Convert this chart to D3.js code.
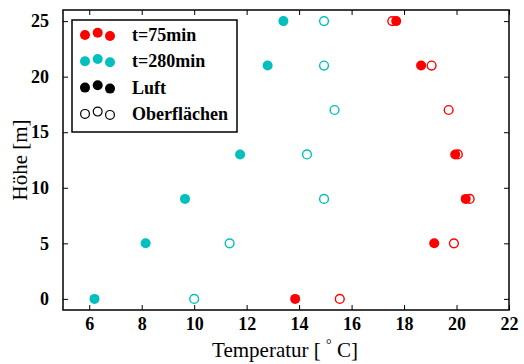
<!DOCTYPE html>
<html>
<head>
<meta charset="utf-8">
<script src="https://cdn.jsdelivr.net/npm/d3@7"></script>
<style>
  body { margin: 0; background: #fff; }
  svg text { font-family: "Liberation Serif", "DejaVu Serif", serif; }
</style>
</head>
<body>
<div id="chart"></div>
<script>
// heights [m]
const hoeheLuft = [0, 5, 9, 13, 21, 25];
const hoeheOberflaechen = [0, 5, 9, 13, 17, 21, 25];

// temperatures [°C]
const luft75 = [13.85, 19.15, 20.35, 19.95, 18.65, 17.7];
const oberflaechen75 = [15.55, 19.9, 20.5, 20.05, 19.7, 19.05, 17.55];
const luft280 = [6.2, 8.15, 9.65, 11.75, 12.8, 13.4];
const oberflaechen280 = [10.0, 11.35, 14.95, 14.3, 15.35, 14.95, 14.95];

const xTicks = [6, 8, 10, 12, 14, 16, 18, 20, 22];
const yTicks = [0, 5, 10, 15, 20, 25];

const legendLabels = ["t=75min", "t=280min", "Luft", "Oberflächen"];

const red = "#ff0000", cyan = "#00bfbf";

const W = 524, H = 364;
const margin = { top: 10, right: 15, bottom: 54, left: 63 };
const width = W - margin.left - margin.right,
      height = H - margin.top - margin.bottom;

const svg = d3.select("#chart").append("svg")
    .attr("width", W)
    .attr("height", H);

const g = svg.append("g")
    .attr("transform", "translate(" + margin.left + "," + margin.top + ")");

const x = d3.scaleLinear().domain([5, 22]).range([0, width]),
      y = d3.scaleLinear().domain([-1, 26]).range([height, 0]);

// axes with inward ticks on all four sides
function styleAxis(sel) {
    sel.select(".domain").remove();
    sel.selectAll(".tick line").attr("stroke", "#000").attr("stroke-width", 1);
}

g.append("g")
    .attr("transform", "translate(0," + height + ")")
    .call(d3.axisBottom(x).tickValues(xTicks).tickSizeInner(-5).tickSizeOuter(0).tickPadding(7))
    .call(styleAxis)
    .selectAll("text")
        .attr("font-size", 18)
        .attr("font-weight", "bold")
        .attr("fill", "#000");

g.append("g")
    .call(d3.axisTop(x).tickValues(xTicks).tickSizeInner(-5).tickSizeOuter(0).tickFormat(""))
    .call(styleAxis);

g.append("g")
    .call(d3.axisLeft(y).tickValues(yTicks).tickSizeInner(-5).tickSizeOuter(0).tickPadding(14))
    .call(styleAxis)
    .selectAll("text")
        .attr("font-size", 18)
        .attr("font-weight", "bold")
        .attr("fill", "#000");

g.append("g")
    .attr("transform", "translate(" + width + ",0)")
    .call(d3.axisRight(y).tickValues(yTicks).tickSizeInner(-5).tickSizeOuter(0).tickFormat(""))
    .call(styleAxis);

g.append("rect")
    .attr("width", width)
    .attr("height", height)
    .attr("fill", "none")
    .attr("stroke", "#000")
    .attr("stroke-width", 1.5);

// data
const r = 5;
function dots(xs, hs, color, filled) {
    g.append("g").selectAll("circle")
        .data(xs.map((v, i) => ({ t: v, h: hs[i] })))
        .enter().append("circle")
        .attr("cx", d => x(d.t))
        .attr("cy", d => y(d.h))
        .attr("r", filled ? r : r - 0.6)
        .attr("fill", filled ? color : "none")
        .attr("stroke", color)
        .attr("stroke-width", filled ? 0 : 1.4);
}
dots(oberflaechen280, hoeheOberflaechen, cyan, false);
dots(luft280, hoeheLuft, cyan, true);
dots(oberflaechen75, hoeheOberflaechen, red, false);
dots(luft75, hoeheLuft, red, true);

// legend
const legend = g.append("g").attr("transform", "translate(9,10)");
legend.append("rect")
    .attr("width", 165)
    .attr("height", 112)
    .attr("fill", "#fff")
    .attr("stroke", "#000")
    .attr("stroke-width", 1.5);

const legendColors = [red, cyan, "#000", "#000"];
const legendFilled = [true, true, true, false];
const markerDx = [13, 25.7, 38], markerDy = [0, -2.3, 1];
legendLabels.forEach((label, i) => {
    const row = legend.append("g").attr("transform", "translate(0," + (15 + i * 26.3) + ")");
    markerDx.forEach((dx, j) => {
        row.append("circle")
            .attr("cx", dx)
            .attr("cy", markerDy[j])
            .attr("r", legendFilled[i] ? r : r - 0.6)
            .attr("fill", legendFilled[i] ? legendColors[i] : "none")
            .attr("stroke", legendColors[i])
            .attr("stroke-width", legendFilled[i] ? 0 : 1.2);
    });
    row.append("text")
        .attr("x", 60)
        .attr("y", 6)
        .attr("font-size", 18)
        .attr("font-weight", "bold")
        .text(label);
});

// axis labels
const xl = svg.append("text")
    .attr("x", margin.left + width / 2 - 1)
    .attr("y", 357)
    .attr("text-anchor", "middle")
    .attr("font-size", 21);
xl.append("tspan").text("Temperatur [ ");
xl.append("tspan").attr("font-size", 14).attr("dy", -8).text("°");
xl.append("tspan").attr("dy", 8).text(" C]");

svg.append("text")
    .attr("transform", "translate(27," + (margin.top + y(12.5)) + ") rotate(-90)")
    .attr("text-anchor", "middle")
    .attr("font-size", 21)
    .text("Höhe [m]");
</script>
</body>
</html>
